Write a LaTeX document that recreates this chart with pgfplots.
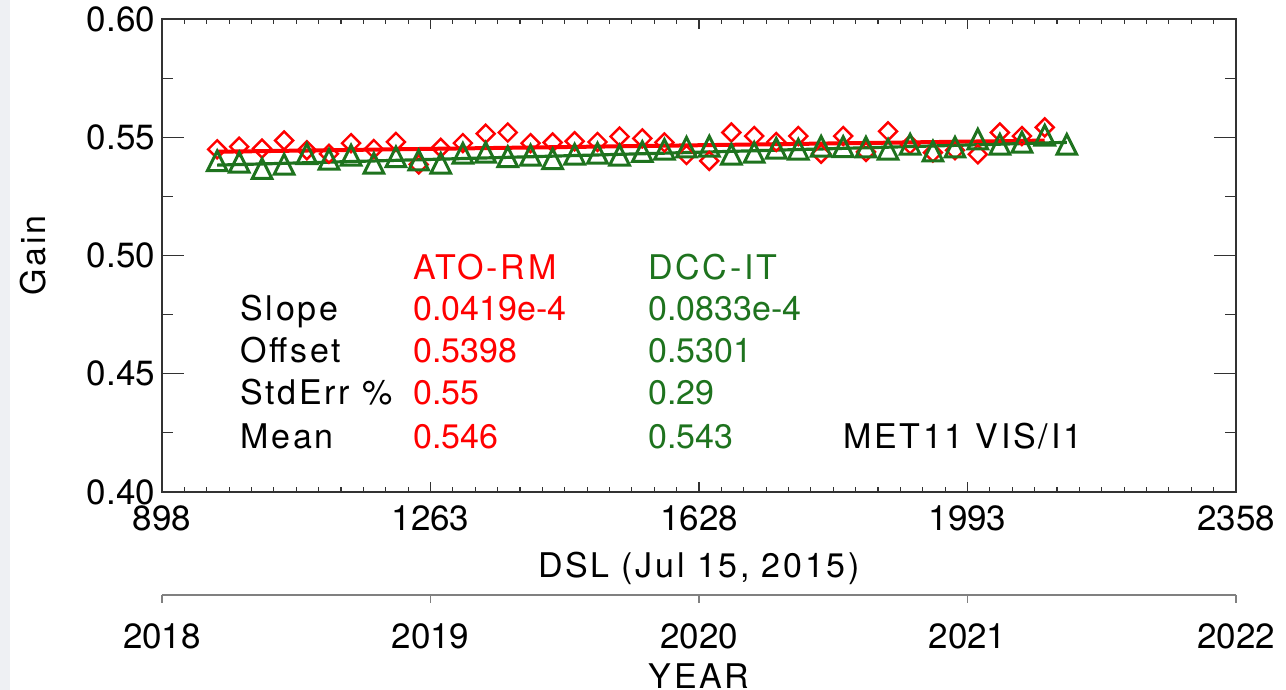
\documentclass[border=0pt]{standalone}
\usepackage{fontspec}
\setmainfont{TeX Gyre Heros}
\newfontfamily\wide{TeX Gyre Heros}[LetterSpace=8]
\usepackage{pgfplots}
\pgfplotsset{compat=1.18}
\usetikzlibrary{calc}

\definecolor{atored}{RGB}{255,0,0}
\definecolor{dccgreen}{RGB}{30,115,30}
\definecolor{frame}{RGB}{50,50,50}
\definecolor{edgeband}{RGB}{238,240,243}

% open diamond and open triangle with equal width and height
\pgfdeclareplotmark{odiamond}{%
  \pgfpathmoveto{\pgfqpoint{0pt}{\pgfplotmarksize}}%
  \pgfpathlineto{\pgfqpoint{\pgfplotmarksize}{0pt}}%
  \pgfpathlineto{\pgfqpoint{0pt}{-\pgfplotmarksize}}%
  \pgfpathlineto{\pgfqpoint{-\pgfplotmarksize}{0pt}}%
  \pgfpathclose\pgfusepathqstroke}
\pgfdeclareplotmark{otriangle}{%
  \pgfpathmoveto{\pgfqpoint{-\pgfplotmarksize}{-\pgfplotmarksize}}%
  \pgfpathlineto{\pgfqpoint{0pt}{\pgfplotmarksize}}%
  \pgfpathlineto{\pgfqpoint{\pgfplotmarksize}{-\pgfplotmarksize}}%
  \pgfpathclose\pgfusepathqstroke}

\pgfplotsset{
  gainframe/.style={
    scale only axis, width=537pt, height=236.5pt,
    xmin=898, xmax=2358, ymin=0.40, ymax=0.60,
    tick align=inside,
    axis line style={frame, line width=0.7pt},
    every tick/.style={frame, line width=0.6pt},
  }
}

\begin{document}
\begin{tikzpicture}[font=\fontsize{17}{20}\selectfont]
\begin{axis}[
  gainframe, name=main,
  xtick={898,1263,1628,1993,2358},
  xticklabels={898,1263,1628,1993,2358},
  minor x tick num=11,
  major tick length=5pt, minor tick length=2.5pt,
  xticklabel style={yshift=-3.3pt, font=\fontsize{17.5}{20}\selectfont},
  ytick={0.40,0.45,0.50,0.55,0.60},
  ytick style={draw=none},
  yticklabel style={font=\fontsize{17.5}{20}\selectfont, /pgf/number format/.cd, fixed, fixed zerofill, precision=2, assume math mode=true},
  xlabel={\wide DSL (Jul 15, 2015)},
  xlabel style={at={(axis description cs:0.5,-0.1818)}, anchor=base, inner sep=0pt},
  ylabel={\wide Gain},
  ylabel style={at={(axis description cs:-0.1089,0.5)}, anchor=base, inner sep=0pt},
]
% ATO-RM monthly gains
\addplot[only marks, mark=odiamond, mark size=4.5pt, atored, mark options={line width=1.2pt}] coordinates {
(973,0.5449) (1003,0.5460) (1034,0.5452) (1064,0.5486) (1095,0.5445)
(1125,0.5430) (1155,0.5475) (1186,0.5450) (1216,0.5480) (1247,0.5385)
(1277,0.5455) (1307,0.5475) (1338,0.5515) (1368,0.5520) (1399,0.5475)
(1429,0.5478) (1459,0.5483) (1490,0.5480) (1520,0.5503) (1551,0.5495)
(1581,0.5478) (1611,0.5425) (1642,0.5400) (1672,0.5520) (1703,0.5505)
(1733,0.5480) (1763,0.5505) (1794,0.5430) (1824,0.5505) (1855,0.5438)
(1885,0.5525) (1915,0.5470) (1946,0.5435) (1976,0.5445) (2007,0.5428)
(2037,0.5520) (2067,0.5505) (2098,0.5542)};
% ATO-RM fit: 0.5398 + 0.0419e-4 * DSL
\addplot[atored, line width=2pt] coordinates {(973,0.54388) (2098,0.54859)};
% DCC-IT monthly gains
\addplot[only marks, mark=otriangle, mark size=4.9pt, dccgreen, mark options={line width=1.5pt}] coordinates {
(973,0.5400) (1003,0.5394) (1034,0.5367) (1064,0.5386) (1095,0.5430)
(1125,0.5407) (1155,0.5424) (1186,0.5390) (1216,0.5417) (1247,0.5403)
(1277,0.5390) (1307,0.5432) (1338,0.5436) (1368,0.5417) (1399,0.5424)
(1429,0.5409) (1459,0.5428) (1490,0.5432) (1520,0.5424) (1551,0.5439)
(1581,0.5449) (1611,0.5458) (1642,0.5462) (1672,0.5428) (1703,0.5436)
(1733,0.5453) (1763,0.5449) (1794,0.5462) (1824,0.5460) (1855,0.5458)
(1885,0.5449) (1915,0.5470) (1946,0.5441) (1976,0.5458) (2007,0.5492)
(2037,0.5470) (2067,0.5479) (2098,0.5508) (2128,0.5470)};
% DCC-IT fit: 0.5301 + 0.0833e-4 * DSL
\addplot[dccgreen, line width=1.6pt] coordinates {(973,0.53821) (2128,0.54783)};

% statistics table
\begin{scope}[every node/.style={anchor=base west, inner sep=0pt}]
\node[atored]   at (axis cs:1239.2,0.48983) {\wide ATO-RM};
\node[dccgreen] at (axis cs:1558.7,0.48983) {\wide DCC-IT};
\node at (axis cs:1004,0.47246) {\wide Slope};
\node at (axis cs:1004,0.45466) {\wide Offset};
\node at (axis cs:1004,0.43686) {\wide StdErr \%};
\node at (axis cs:1004,0.41822) {\wide Mean};
\node[atored] at (axis cs:1239.2,0.47246) {0.0419e-4};
\node[atored] at (axis cs:1239.2,0.45466) {0.5398};
\node[atored] at (axis cs:1239.2,0.43686) {0.55};
\node[atored] at (axis cs:1239.2,0.41822) {0.546};
\node[dccgreen] at (axis cs:1558.7,0.47246) {0.0833e-4};
\node[dccgreen] at (axis cs:1558.7,0.45466) {0.5301};
\node[dccgreen] at (axis cs:1558.7,0.43686) {0.29};
\node[dccgreen] at (axis cs:1558.7,0.41822) {0.543};
\node at (axis cs:1823.7,0.41822) {\wide MET11 VIS/I1};
\end{scope}
\end{axis}

% longer y ticks on both sides
\begin{axis}[
  gainframe, at={(main.south west)}, anchor=south west,
  xtick=\empty,
  ytick={0.40,0.45,0.50,0.55,0.60},
  yticklabels={},
  minor y tick num=1,
  major tick length=11pt, minor tick length=5.5pt,
]
\end{axis}

% calendar year axis
\begin{axis}[
  at={($(main.south west)+(0,-51.5pt)$)}, anchor=south west,
  scale only axis, width=537pt, height=1pt,
  xmin=2018, xmax=2022, ymin=0, ymax=1,
  axis y line=none, axis x line=bottom,
  x axis line style={-, gray, line width=0.6pt},
  xtick={2018,2019,2020,2021,2022},
  xticklabels={2018,2019,2020,2021,2022},
  tick align=outside, major tick length=4pt,
  xtick style={gray, line width=0.6pt},
  xticklabel style={yshift=-7pt, font=\fontsize{17.5}{20}\selectfont},
]
\end{axis}

\node[anchor=base] at ($(main.south)+(0,-98.5pt)$) {\wide YEAR};

\pgfresetboundingbox
\fill[edgeband] ($(main.south west)+(-81pt,-99pt)$) rectangle ($(main.north west)+(-76pt,9.5pt)$);
\path ($(main.south west)+(-81pt,-99pt)$) rectangle ($(main.north east)+(25pt,9.5pt)$);
\end{tikzpicture}
\end{document}
